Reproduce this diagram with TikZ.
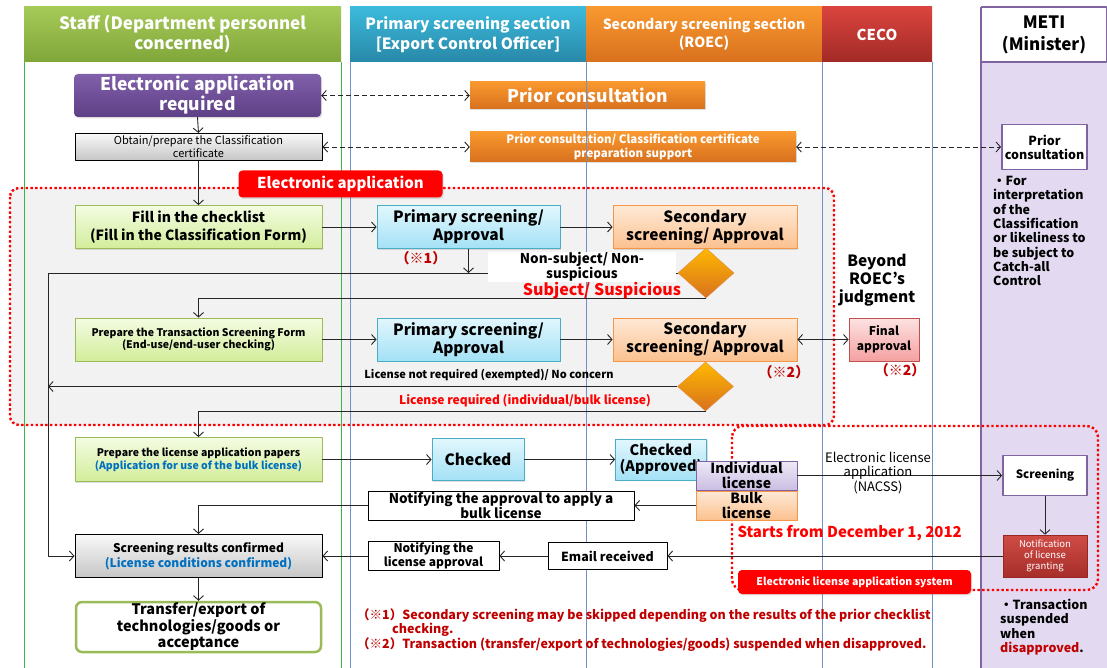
\documentclass[tikz,border=0pt]{standalone}
\usepackage{fontspec}
\setmainfont{Noto Sans CJK JP}
\usetikzlibrary{arrows.meta}
\usetikzlibrary{shapes.geometric}
\usetikzlibrary{shadows}
\definecolor{lanegreen}{HTML}{3CB54A}
\definecolor{laneblue}{HTML}{6F90C8}
\definecolor{metipurple}{HTML}{8064A2}
\definecolor{metifill}{HTML}{E3DAF1}
\definecolor{regiongray}{HTML}{F2F2F2}
\definecolor{alertred}{HTML}{FF0000}
\definecolor{notered}{HTML}{C00000}
\definecolor{textblue}{HTML}{0070C0}
\definecolor{lgreentop}{HTML}{F4FCE2}
\definecolor{lgreenbot}{HTML}{D2ED9A}
\definecolor{lgreenline}{HTML}{9BBB59}
\definecolor{lbluetop}{HTML}{E2F7FD}
\definecolor{lbluebot}{HTML}{A3E1F6}
\definecolor{lblueline}{HTML}{4BACC6}
\definecolor{lorangetop}{HTML}{FEE9D6}
\definecolor{lorangebot}{HTML}{FBC18F}
\definecolor{lorangeline}{HTML}{F79646}
\definecolor{orangetop}{HTML}{F9982F}
\definecolor{orangebot}{HTML}{D8711E}
\newcommand\fsz[2]{\fontsize{#1}{#2}\selectfont}
\tikzset{
  conn/.style={draw=black!85, line width=0.9pt},
  dashconn/.style={conn, dash pattern=on 5pt off 3pt},
  reddots/.style={draw=alertred, line width=2.4pt, line cap=butt, dash pattern=on 2.4pt off 2.4pt},
  softshadow/.style={drop shadow={shadow xshift=1.2pt, shadow yshift=-1.4pt, opacity=0.25}},
  hdr/.style={rectangle, inner sep=0pt, align=center, text=white, font=\bfseries},
  box/.style={rectangle, inner sep=1pt, align=center, text=black},
  lgreenbox/.style={box, draw=lgreenline, line width=0.8pt, top color=lgreentop, bottom color=lgreenbot, softshadow},
  lbluebox/.style={box, draw=lblueline, line width=0.8pt, top color=lbluetop, bottom color=lbluebot, softshadow},
  lorangebox/.style={box, draw=lorangeline, line width=0.8pt, top color=lorangetop, bottom color=lorangebot, softshadow},
  orangebox/.style={box, text=white, top color=orangetop, bottom color=orangebot, softshadow},
  graybox/.style={box, draw=black, line width=1pt, top color=gray!5, bottom color=gray!45},
  whitebox/.style={box, draw=black, line width=0.9pt, fill=white},
  metibox/.style={box, draw=metipurple, line width=1.8pt, fill=white},
  redlabel/.style={box, text=white, fill=alertred, rounded corners=4pt, softshadow},
  orangediamond/.style={diamond, inner sep=0pt, top color=orange!55!yellow, bottom color=orangebot, draw=orangebot!80, line width=0.4pt},
  redmark/.style={text=notered, font=\bfseries\fsz{14}{16}}
}

\begin{document}
\begin{tikzpicture}[x=1pt,y=-1pt,line join=round,>={Straight Barb[length=4.5pt,width=10pt]}]
\useasboundingbox (0,0) rectangle (1107,668);
% lanes and regions
\fill[metifill] (981,62) rectangle (1107,668);
\fill[regiongray,rounded corners=8pt] (10,188) rectangle (834,425);
\node[orangebox, minimum width=235pt, minimum height=27pt, font=\bfseries\fsz{17.5}{20}] (pc) at (587.5,95.5) {Prior consultation};
\node[orangebox, minimum width=326pt, minimum height=30pt, font=\bfseries\fsz{11.5}{14}] (pcs) at (633,147) {Prior consultation/ Classification certificate\\preparation support};
\foreach \x in {24,341}
\draw[lanegreen, line width=0.8pt] (\x,62) -- (\x,668);
\foreach \x in {350,586,822,932}
\draw[laneblue, line width=0.8pt] (\x,62) -- (\x,668);
\draw[metipurple, line width=1.5pt] (981,7) -- (981,668);
\draw[reddots, rounded corners=9pt] (10,188) rectangle (834,425);
\draw[reddots, rounded corners=11pt] (732,426) rectangle (1098,590);
% headers
\node[hdr, top color={rgb,255:red,166;green,202;blue,88}, bottom color={rgb,255:red,128;green,166;blue,58}, minimum width=317pt, minimum height=55pt, font=\bfseries\fsz{17}{20}] (hStaff) at (182.5,34.5) {Staff (Department personnel\\concerned)};
\node[hdr, top color={rgb,255:red,60;green,186;blue,220}, bottom color={rgb,255:red,40;green,136;blue,168}, minimum width=236pt, minimum height=55pt, font=\bfseries\fsz{15.5}{20}] (hPrim) at (468,34.5) {Primary screening section\\{[}Export Control Officer{]}};
\node[hdr, top color=orangetop, bottom color=orangebot, minimum width=236pt, minimum height=55pt, font=\bfseries\fsz{14}{18}] (hSec) at (704,34.5) {Secondary screening section\\(ROEC)};
\node[hdr, top color={rgb,255:red,218;green,68;blue,62}, bottom color={rgb,255:red,162;green,42;blue,38}, minimum width=110pt, minimum height=55pt, font=\bfseries\fsz{15}{18}] (hCeco) at (877,34.5) {CECO};
\node[hdr, draw=metipurple, line width=1.5pt, fill=white, text=black, minimum width=125pt, minimum height=55pt, font=\bfseries\fsz{17}{22}] (hMeti) at (1044,34.5) {METI\\(Minister)};
% boxes
\node[box, text=white, rounded corners=4pt, top color={rgb,255:red,128;green,96;blue,170}, bottom color={rgb,255:red,94;green,64;blue,134}, softshadow, minimum width=247pt, minimum height=43pt, font=\bfseries\fsz{17.5}{20}] (ea) at (197.5,95.5) {Electronic application\\required};
\node[graybox, minimum width=247pt, minimum height=27pt, font=\fsz{11}{13}] (obt) at (198.5,147) {Obtain/prepare the Classification\\certificate};
\node[metibox, minimum width=85pt, minimum height=45pt, font=\bfseries\fsz{12.5}{14}] (mpc) at (1044.5,147) {Prior\\consultation};
\node[anchor=north west, align=left, inner sep=0pt, font=\bfseries\fsz{12.5}{14.3}] (forint) at (993,176) {・For\\interpretation\\of the\\Classification\\or likeliness to\\be subject to\\Catch-all\\Control};
\node[redlabel, minimum width=204pt, minimum height=27pt, font=\bfseries\fsz{15}{17}] (lblEA) at (340.5,184) {Electronic application};
\node[lgreenbox, minimum width=247pt, minimum height=43pt, font=\bfseries\fsz{14}{18}] (fill) at (198.5,227) {Fill in the checklist\\(Fill in the Classification Form)};
\node[lbluebox, minimum width=183pt, minimum height=43pt, font=\bfseries\fsz{15.5}{18}] (prim1) at (468.5,227) {Primary screening/\\Approval};
\node[lorangebox, minimum width=184pt, minimum height=43pt, font=\bfseries\fsz{15.5}{18}] (sec1) at (705,227) {Secondary\\screening/ Approval};
\node[orangediamond, minimum width=56pt, minimum height=50pt] (dia1) at (706,273) {};
\node[redmark] (mark1) at (421,258) {（※1）};
\node[font=\bfseries\fsz{15.5}{18}, align=center] (beyond) at (877,280) {Beyond\\ROEC's\\judgment};
\node[lgreenbox, minimum width=247pt, minimum height=43pt, font=\bfseries\fsz{10.5}{12.5}] (pts) at (198.5,339.5) {Prepare the Transaction Screening Form\\(End-use/end-user checking)};
\node[lbluebox, minimum width=183pt, minimum height=43pt, font=\bfseries\fsz{15.5}{18}] (prim2) at (468.5,339.5) {Primary screening/\\Approval};
\node[lorangebox, minimum width=184pt, minimum height=43pt, font=\bfseries\fsz{15.5}{18}] (sec2) at (705,339.5) {Secondary\\screening/ Approval};
\node[box, draw={rgb,255:red,192;green,80;blue,77}, line width=0.8pt, top color={rgb,255:red,253;green,226;blue,226}, bottom color={rgb,255:red,244;green,160;blue,160}, softshadow, minimum width=70pt, minimum height=43pt, font=\bfseries\fsz{12}{15}] (fin) at (884,339.5) {Final\\approval};
\node[redmark] (mark2a) at (784,372) {（※2）};
\node[redmark] (mark2b) at (900,370) {（※2）};
\node[orangediamond, minimum width=56pt, minimum height=49pt] (dia2) at (705.5,386.5) {};
\node[font=\bfseries\fsz{11}{13}] (lnr) at (489,375) {License not required (exempted)/ No concern};
\node[text=alertred, font=\bfseries\fsz{12}{14}] (lr) at (525,401) {License required (individual/bulk license)};
\node[lgreenbox, minimum width=247pt, minimum height=44pt, font=\bfseries\fsz{10.5}{13}] (plap) at (198.5,459.5) {Prepare the license application papers\\\textcolor{textblue}{(Application for use of the bulk license)}};
\node[lbluebox, minimum width=92pt, minimum height=42pt, font=\bfseries\fsz{15.5}{18}] (chk) at (478,459.5) {Checked};
\node[lbluebox, minimum width=91pt, minimum height=41pt, font=\bfseries\fsz{14.5}{16}] (chka) at (661,459.5) {Checked\\(Approved)};
\node[box, draw=metipurple, line width=0.8pt, top color={rgb,255:red,238;green,233;blue,246}, bottom color={rgb,255:red,203;green,190;blue,227}, minimum width=101pt, minimum height=29pt, font=\bfseries\fsz{14}{15}] (ind) at (746.5,475.5) {Individual\\license};
\node[lorangebox, minimum width=101pt, minimum height=29pt, font=\bfseries\fsz{14}{15}] (bulk) at (746.5,505.5) {Bulk\\license};
\node[metibox, minimum width=84pt, minimum height=40pt, font=\bfseries\fsz{11.5}{14}] (scr) at (1045,475.5) {Screening};
\node[box, text=white, draw={rgb,255:red,150;green,40;blue,36}, line width=0.6pt, top color={rgb,255:red,208;green,76;blue,70}, bottom color={rgb,255:red,166;green,46;blue,42}, softshadow, minimum width=84pt, minimum height=42pt, font=\fsz{9.5}{11}] (nlg) at (1045,556) {Notification\\of license\\granting};
\node[whitebox, minimum width=266pt, minimum height=29pt, font=\bfseries\fsz{13.5}{15}] (nab) at (501,505.5) {Notifying the approval to apply a\\bulk license};
\node[whitebox, minimum width=119pt, minimum height=27pt, font=\bfseries\fsz{12.5}{14}] (email) at (607.5,556) {Email received};
\node[whitebox, minimum width=131pt, minimum height=27pt, font=\bfseries\fsz{12}{14}] (nla) at (433.5,556) {Notifying the\\license approval};
\node[graybox, minimum width=247pt, minimum height=43pt, font=\bfseries\fsz{12}{15}] (src) at (198.5,556) {Screening results confirmed\\\textcolor{textblue}{(License conditions confirmed)}};
\node[box, draw=lgreenline, line width=2.5pt, fill=white, rounded corners=6pt, minimum width=245pt, minimum height=50pt, font=\bfseries\fsz{14.5}{16.5}] (tr) at (198.5,627) {Transfer/export of\\technologies/goods or\\acceptance};
\node[redlabel, minimum width=233pt, minimum height=24pt, font=\bfseries\fsz{10.5}{12}] (lblELAS) at (854.5,582) {Electronic license application system};
% connectors
\coordinate (cL) at (48,273);
\draw[<->, dashconn] (ea.east) -- (pc.west);
\draw[<->, dashconn] (obt.east) -- (pcs.west);
\draw[<->, dashconn] (pcs.east) -- (mpc.west);
\draw[->, conn] (ea.south) -- (obt.north);
\draw[->, conn] (obt.south) -- (fill.north);
\draw[->, conn] (fill.east) -- (prim1.west);
\draw[->, conn] (prim1.east) -- (sec1.west);
\draw[->, conn] (prim1.south) -- (prim1.south |- dia1.west);
\draw[->, conn] (dia1.west) -- (cL) |- (src.west);
\draw[->, conn] (dia1.south) -| (pts.north);
\draw[->, conn] (pts.east) -- (prim2.west);
\draw[->, conn] (prim2.east) -- (sec2.west);
\draw[<->, conn] (sec2.east) -- (fin.west);
\draw[->, conn] (dia2.west) -- (dia2.west -| cL);
\draw[->, conn] (dia2.south) -| (plap.north);
\draw[->, conn] (plap.east) -- (chk.west);
\draw[->, conn] (chk.east) -- (chka.west);
\draw[->, conn] (ind.east) -- (scr.west);
\draw[->, conn] (scr.south) -- (nlg.north);
\draw[->, conn] (nlg.west) -- (email.east);
\draw[->, conn] (email.west) -- (nla.east);
\draw[->, conn] (nla.west) -- (src.east);
\draw[->, conn] (bulk.west) -- (nab.east);
\draw[->, conn] (nab.west) -| (src.north);
\draw[->, conn] (src.south) -- (tr.north);
% texts over lines
\node[fill=white, minimum width=188pt, minimum height=29pt, inner sep=0pt, align=center, font=\bfseries\fsz{13.5}{15}] (nsLabel) at (582,267) {Non-subject/ Non-\\suspicious};
\node[text=alertred, font=\bfseries\fsz{16}{18}] (subj) at (602,291) {Subject/ Suspicious};
\node[align=center, text=black, font=\fsz{13}{14.5}] (nacss) at (878,473) {Electronic license\\application\\(NACSS)};
\node[anchor=west, text=alertred, font=\bfseries\fsz{15}{17}] (starts) at (734,533) {Starts from December 1, 2012};
\node[anchor=west, inner sep=0pt, text=notered, font=\bfseries\fsz{12.5}{14}] (fn1) at (357,616) {（※1）Secondary screening may be skipped depending on the results of the prior checklist};
\node[anchor=west, inner sep=0pt, text=notered, font=\bfseries\fsz{12.5}{14}] (fn1b) at (392,630) {checking.};
\node[anchor=west, inner sep=0pt, text=notered, font=\bfseries\fsz{12.5}{14}] (fn2) at (357,645) {（※2）Transaction (transfer/export of technologies/goods) suspended when disapproved.};
\node[anchor=north west, align=left, inner sep=0pt, font=\bfseries\fsz{12.5}{14.3}] (tsw) at (1000,599) {・Transaction\\suspended\\when\\\textcolor{notered}{disapproved}.};
\end{tikzpicture}
\end{document}
